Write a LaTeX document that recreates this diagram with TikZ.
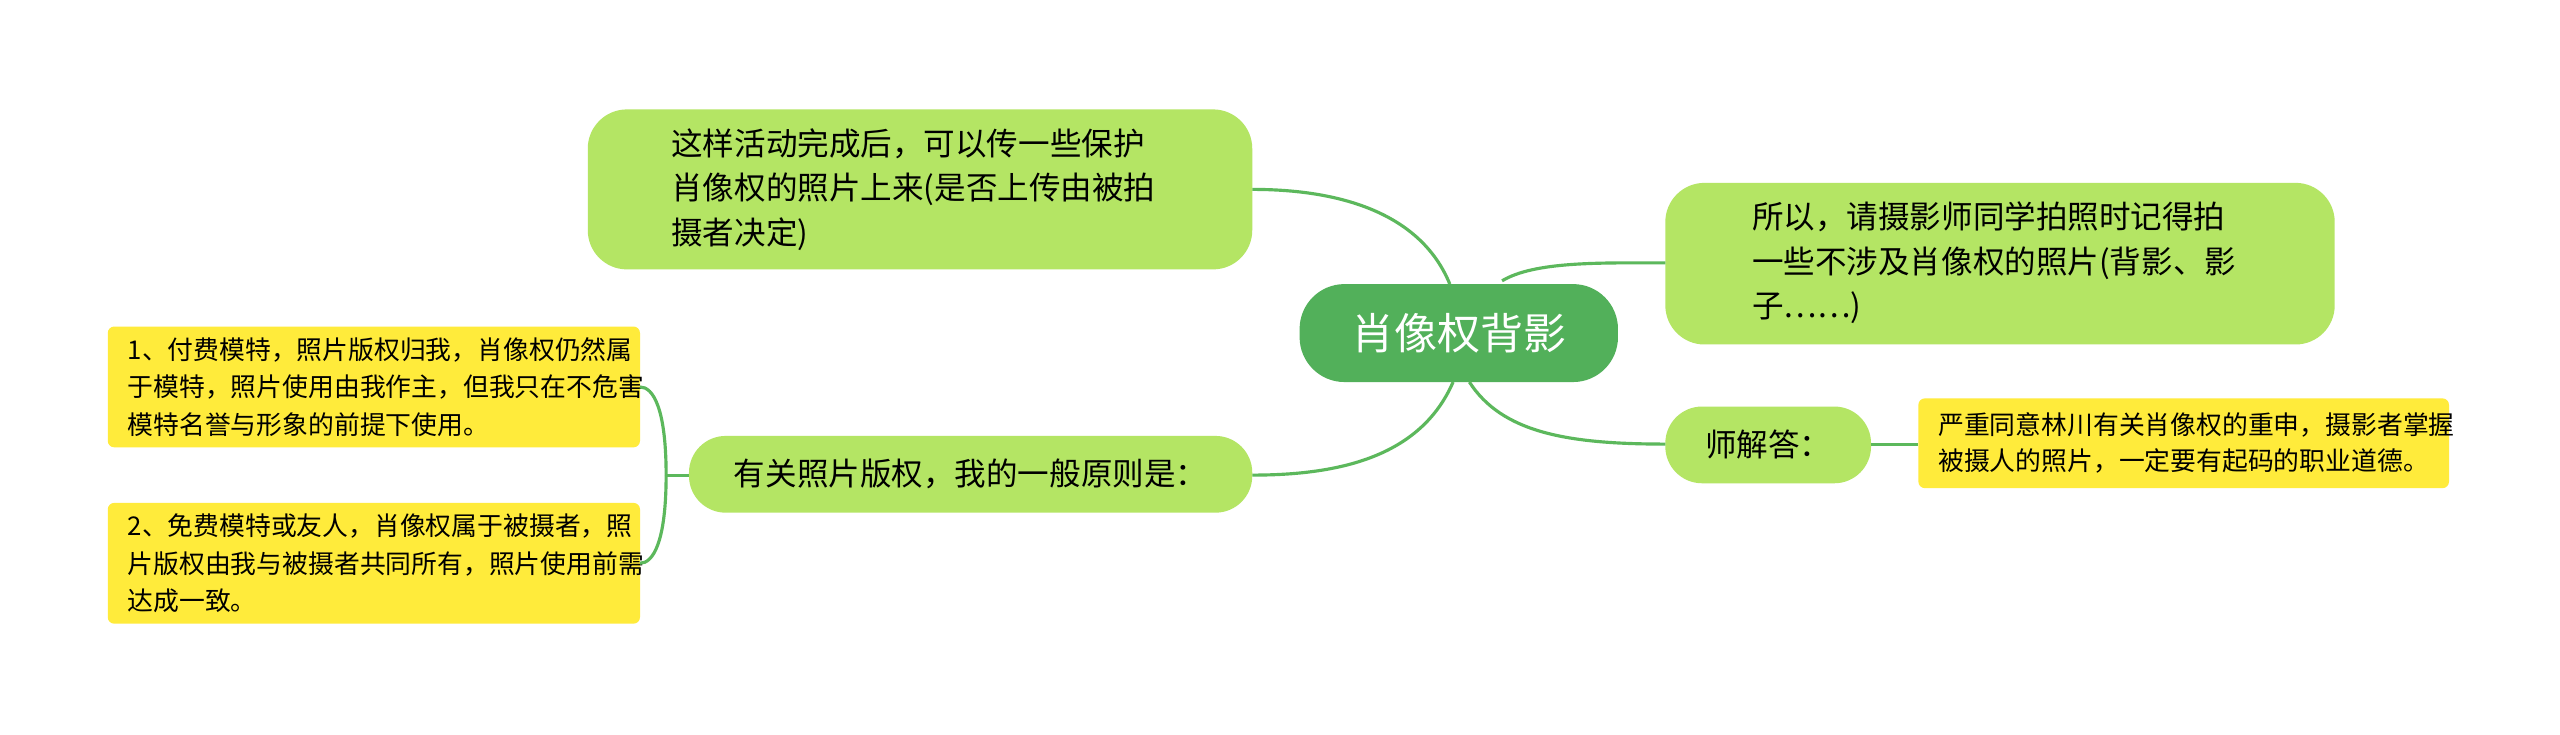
\documentclass[tikz,border=0pt]{standalone}
\usepackage{fontspec}
\setmainfont{Noto Sans CJK SC}
\begin{document}
\begin{tikzpicture}[x=0.02cm,y=-0.02cm,
 lg/.style={fill=lgreen,rounded corners=0.48cm,font=\fontsize{11}{15}\selectfont,align=left,inner sep=0pt},
 yb/.style={fill=yel,rounded corners=0.08cm,font=\fontsize{9}{12.5}\selectfont,align=left,inner sep=0pt},
 ln/.style={draw=lnc,line width=1.1pt}]
\definecolor{lgreen}{HTML}{B4E564}
\definecolor{dgreen}{HTML}{52B05A}
\definecolor{yel}{HTML}{FFEB3B}
\definecolor{lnc}{HTML}{5CB85C}
\useasboundingbox[fill=white] (0,0) rectangle (1568,450);
\path[fill=dgreen,rounded corners=0.55cm] (796,174) rectangle (991,234);
\node[text=white,font=\fontsize{15}{18}\selectfont] (c) at (893.5,204) {肖像权背影};
\path[lg] (360,67) rectangle (767,165);
\node[font=\fontsize{11}{15.5}\selectfont,align=left,anchor=west] (a) at (405,116) {这样活动完成后，可以传一些保护\\肖像权的照片上来(是否上传由被拍\\摄者决定)};
\path[lg] (1020,112) rectangle (1430,211);
\node[font=\fontsize{11}{15.5}\selectfont,align=left,anchor=west] (b) at (1067,161) {所以，请摄影师同学拍照时记得拍\\一些不涉及肖像权的照片(背影、影\\子……)};
\path[lg,rounded corners=0.45cm] (1020,249) rectangle (1146,296);
\node[font=\fontsize{11}{15}\selectfont] (d) at (1083,272) {师解答：};
\path[yb] (1175,244) rectangle (1500,299);
\node[font=\fontsize{9}{12.5}\selectfont,align=left,anchor=west] (e) at (1181,271.5) {严重同意林川有关肖像权的重申，摄影者掌握\\被摄人的照片，一定要有起码的职业道德。};
\path[lg,rounded corners=0.45cm] (422,267) rectangle (767,314);
\node[font=\fontsize{11}{15}\selectfont] (f) at (594.5,290.5) {有关照片版权，我的一般原则是：};
\path[yb] (66,200) rectangle (392,274);
\node[font=\fontsize{9}{13}\selectfont,align=left,anchor=west] (g) at (72,237) {1、付费模特，照片版权归我，肖像权仍然属\\于模特，照片使用由我作主，但我只在不危害\\模特名誉与形象的前提下使用。};
\path[yb] (66,308) rectangle (392,382);
\node[font=\fontsize{9}{13}\selectfont,align=left,anchor=west] (h) at (72,345) {2、免费模特或友人，肖像权属于被摄者，照\\片版权由我与被摄者共同所有，照片使用前需\\达成一致。};
\coordinate (cT) at (888,174);
\coordinate (cR) at (920,172);
\coordinate (cB1) at (900,234);
\coordinate (cB2) at (890,234);
\coordinate (aE) at (767,116);
\coordinate (bW) at (1020,161);
\coordinate (dW) at (1020,272);
\coordinate (dE) at (1146,272);
\coordinate (eW) at (1175,272);
\coordinate (fE) at (767,291);
\coordinate (fW) at (422,291);
\coordinate (br) at (408,291);
\coordinate (gE) at (392,237);
\coordinate (hE) at (392,345);
\draw[ln] (cT) .. controls (870,130) and (820,116) .. (aE);
\draw[ln] (cR) .. controls (940,160) and (980,161) .. (bW);
\draw[ln] (cB1) .. controls (920,265) and (960,272) .. (dW);
\draw[ln] (cB2) .. controls (870,280) and (820,291) .. (fE);
\draw[ln] (dE) -- (eW);
\draw[ln] (fW) -- (br);
\draw[ln] (br) .. controls (408,250) and (400,237) .. (gE);
\draw[ln] (br) .. controls (408,332) and (400,345) .. (hE);
\end{tikzpicture}
\end{document}
